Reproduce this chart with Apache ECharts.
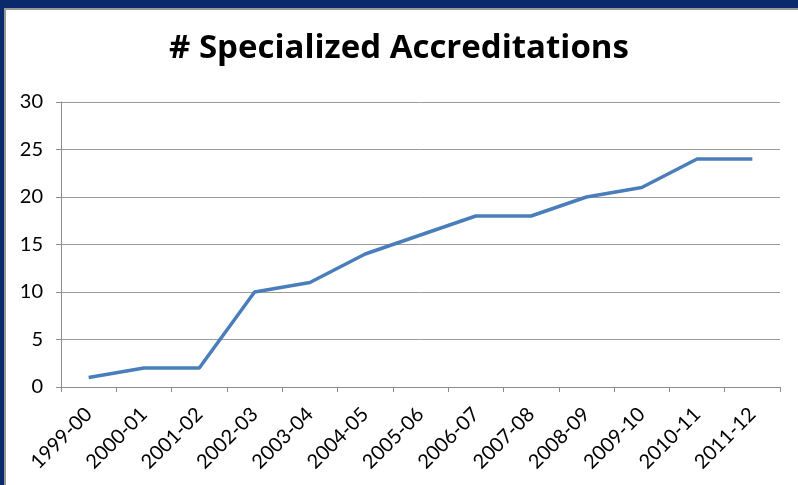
<!DOCTYPE html>
<html>
<head>
<meta charset="utf-8">
<script src="https://cdn.jsdelivr.net/npm/echarts@6/dist/echarts.min.js"></script>
<style>
  html, body { margin: 0; padding: 0; width: 798px; height: 485px; overflow: hidden; background: #0b2a6c; }
  #frame { position: absolute; left: 4px; top: 8px; width: 800px; height: 485px; background: #fff; border-top: 2px solid #9a9a9a; border-left: 2px solid #9a9a9a; }
  #chart { position: absolute; left: 0; top: 0; width: 798px; height: 485px; }
</style>
</head>
<body>
<div id="frame"></div>
<div id="chart"></div>
<script>
// 数据
var categories = ['1999-00', '2000-01', '2001-02', '2002-03', '2003-04', '2004-05', '2005-06',
  '2006-07', '2007-08', '2008-09', '2009-10', '2010-11', '2011-12'];
var accreditations = [1, 2, 2, 10, 11, 14, 16, 18, 18, 20, 21, 24, 24];
var yTicks = [0, 5, 10, 15, 20, 25, 30];

var myChart = echarts.init(document.getElementById('chart'));
var option = {
  animation: false,
  title: {
    text: '# Specialized Accreditations',
    left: 'center',
    top: 27,
    textStyle: {
      fontFamily: 'Open Sans',
      fontWeight: 'bold',
      fontSize: 33,
      color: '#000',
    },
  },
  grid: {
    left: 61,
    right: 18,
    top: 102,
    bottom: 98,
  },
  xAxis: {
    type: 'category',
    data: categories,
    boundaryGap: true,
    axisLine: { lineStyle: { color: '#8c8c8c', width: 1 } },
    axisTick: { show: true, length: 5, lineStyle: { color: '#8c8c8c' } },
    axisLabel: {
      rotate: 45,
      interval: 0,
      margin: 24,
      fontFamily: 'Lato',
      fontSize: 20,
      color: '#000',
    },
  },
  yAxis: {
    type: 'value',
    min: yTicks[0],
    max: yTicks[yTicks.length - 1],
    interval: 5,
    axisLine: { show: true, lineStyle: { color: '#8c8c8c', width: 1 } },
    axisTick: { show: true, length: 5, lineStyle: { color: '#8c8c8c' } },
    splitLine: { show: true, lineStyle: { color: '#9a9a9a', width: 1 } },
    axisLabel: {
      margin: 18,
      fontFamily: 'Lato',
      fontSize: 20,
      color: '#000',
    },
  },
  series: [
    {
      type: 'line',
      data: accreditations,
      symbol: 'none',
      lineStyle: { color: '#4a7ebb', width: 3.5 },
    },
  ],
};
myChart.setOption(option);
</script>
</body>
</html>
